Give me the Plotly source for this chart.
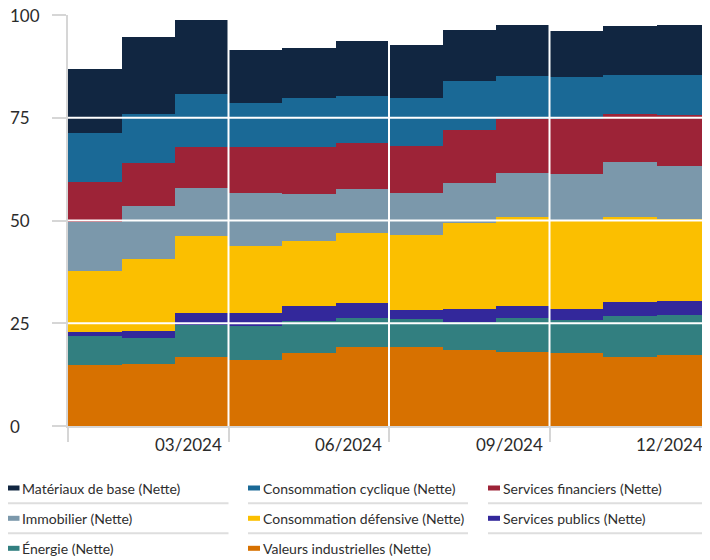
import plotly.graph_objects as go

# ---------------- data ----------------
months = [1, 2, 3, 4, 5, 6, 7, 8, 9, 10, 11, 12]
tick_months = [3, 6, 9, 12]
tick_labels = ["03/2024", "06/2024", "09/2024", "12/2024"]
y_ticks = [0, 25, 50, 75, 100]
y_tick_labels = ["0", "25", "50", "75", "100"]

valeurs_industrielles = [14.9, 15.2, 16.8, 16.1, 17.7, 19.3, 19.3, 18.4, 17.9, 17.8, 16.9, 17.2]
energie = [6.9, 6.3, 7.8, 8.2, 7.9, 7.0, 6.8, 7.0, 8.4, 7.9, 9.9, 9.9]
services_publics = [1.0, 1.7, 2.9, 3.1, 3.5, 3.7, 2.2, 3.1, 3.0, 2.8, 3.3, 3.4]
conso_defensive = [14.8, 17.5, 18.7, 16.5, 15.8, 16.9, 18.2, 20.8, 21.6, 21.6, 20.7, 19.8]
immobilier = [12.0, 12.8, 11.7, 12.8, 11.5, 10.7, 10.2, 9.9, 10.6, 11.3, 13.5, 12.9]
services_financiers = [9.8, 10.6, 9.9, 11.1, 11.4, 11.2, 11.5, 12.9, 13.3, 13.4, 11.5, 12.4]
conso_cyclique = [11.8, 11.9, 13.1, 10.7, 12.0, 11.4, 11.6, 11.8, 10.4, 10.1, 9.5, 9.7]
materiaux = [15.7, 18.6, 17.9, 13.0, 12.1, 13.5, 12.8, 12.5, 12.3, 11.3, 12.1, 12.3]

# stack order bottom -> top
series = [
    ("Valeurs industrielles (Nette)", valeurs_industrielles, "#d77100"),
    ("Énergie (Nette)", energie, "#327f80"),
    ("Services publics (Nette)", services_publics, "#33289b"),
    ("Consommation défensive (Nette)", conso_defensive, "#fbbf00"),
    ("Immobilier (Nette)", immobilier, "#7b98ab"),
    ("Services financiers (Nette)", services_financiers, "#9d2337"),
    ("Consommation cyclique (Nette)", conso_cyclique, "#1a6996"),
    ("Matériaux de base (Nette)", materiaux, "#112641"),
]

# ---------------- geometry ----------------
OFF = 8  # page body margin
W, H = 710 - OFF, 560 - OFF
ML, MR, MT = 68 - OFF, 0, 15 - OFF
MB = 134
PW, PH = W - ML - MR, H - MT - MB


def px(x):  # page pixel -> paper x
    return (x - OFF - ML) / PW


def py(y):  # page pixel -> paper y
    return (H - MB - (y - OFF)) / PH


FONT = "Lato, 'Open Sans', sans-serif"
TXT = "#2b2b2b"
GRAY = "#d6d6d6"

fig = go.Figure()
for name, vals, col in series:
    fig.add_trace(go.Bar(
        x=months, y=vals, name=name,
        marker=dict(color=col, line=dict(width=0)),
        showlegend=False,
    ))

shapes = []
annotations = []

# white gridlines drawn over the areas
for v in y_ticks[1:-1]:
    shapes.append(dict(type="line", xref="paper", yref="y", x0=0, x1=1, y0=v, y1=v,
                       line=dict(color="white", width=2), layer="above"))
for m in tick_months[:-1]:
    shapes.append(dict(type="line", xref="x", yref="y", x0=m + 0.5, x1=m + 0.5,
                       y0=y_ticks[0], y1=y_ticks[-1],
                       line=dict(color="white", width=2), layer="above"))

# y tick labels (left-aligned)
for v, lab in zip(y_ticks, y_tick_labels):
    annotations.append(dict(text=lab, x=px(8), xref="paper", y=v, yref="y",
                            xanchor="left", yanchor="middle", showarrow=False,
                            font=dict(family=FONT, size=17, color=TXT)))
# x tick labels (right-aligned to the tick)
for m, lab in zip(tick_months, tick_labels):
    annotations.append(dict(text=lab, x=m + 0.5, xref="x", y=py(444), yref="paper",
                            xanchor="right", yanchor="middle", xshift=-5, showarrow=False,
                            font=dict(family=FONT, size=17, color=TXT)))

# custom legend
col_x = [7.5, 248, 488]
col_w = [221, 220, 222]
row_y = [488, 518.3, 548.3]
sep_y = [503.3, 533.3]
legend_order = list(reversed(series))
for i, (name, vals, col) in enumerate(legend_order):
    c, r = i % 3, i // 3
    cx, ry = col_x[c], row_y[r]
    shapes.append(dict(type="rect", xref="paper", yref="paper",
                       x0=px(cx), x1=px(cx + 12), y0=py(ry + 2.5), y1=py(ry - 2.5),
                       fillcolor=col, line=dict(width=0)))
    annotations.append(dict(text=name, x=px(cx + 12.5), xref="paper", y=py(ry), yref="paper",
                            xanchor="left", yanchor="middle", showarrow=False,
                            font=dict(family=FONT, size=14, color="#2e2e2e")))
for sy in sep_y:
    for cx, cw in zip(col_x, col_w):
        shapes.append(dict(type="line", xref="paper", yref="paper",
                           x0=px(cx), x1=px(min(cx + cw, 710)), y0=py(sy), y1=py(sy),
                           line=dict(color="#dedede", width=2)))

tickvals_x = [months[0] - 0.5] + [m + 0.5 for m in tick_months]

fig.update_layout(
    width=W, height=H,
    margin=dict(l=ML, r=MR, t=MT, b=MB),
    barmode="stack", bargap=0,
    plot_bgcolor="white", paper_bgcolor="white",
    font=dict(family=FONT, color=TXT),
    shapes=shapes, annotations=annotations,
    xaxis=dict(range=[months[0] - 0.5, months[-1] + 0.5], tickvals=tickvals_x,
               showticklabels=False, showgrid=False, zeroline=False,
               ticks="outside", ticklen=14, tickwidth=2, tickcolor=GRAY,
               showline=True, linecolor=GRAY, linewidth=2),
    yaxis=dict(range=[y_ticks[0], y_ticks[-1]], tickvals=y_ticks,
               showticklabels=False, showgrid=False, zeroline=False,
               ticks="outside", ticklen=14, tickwidth=2, tickcolor=GRAY,
               showline=True, linecolor=GRAY, linewidth=2),
    showlegend=False,
)

fig.write_html("out.html")
